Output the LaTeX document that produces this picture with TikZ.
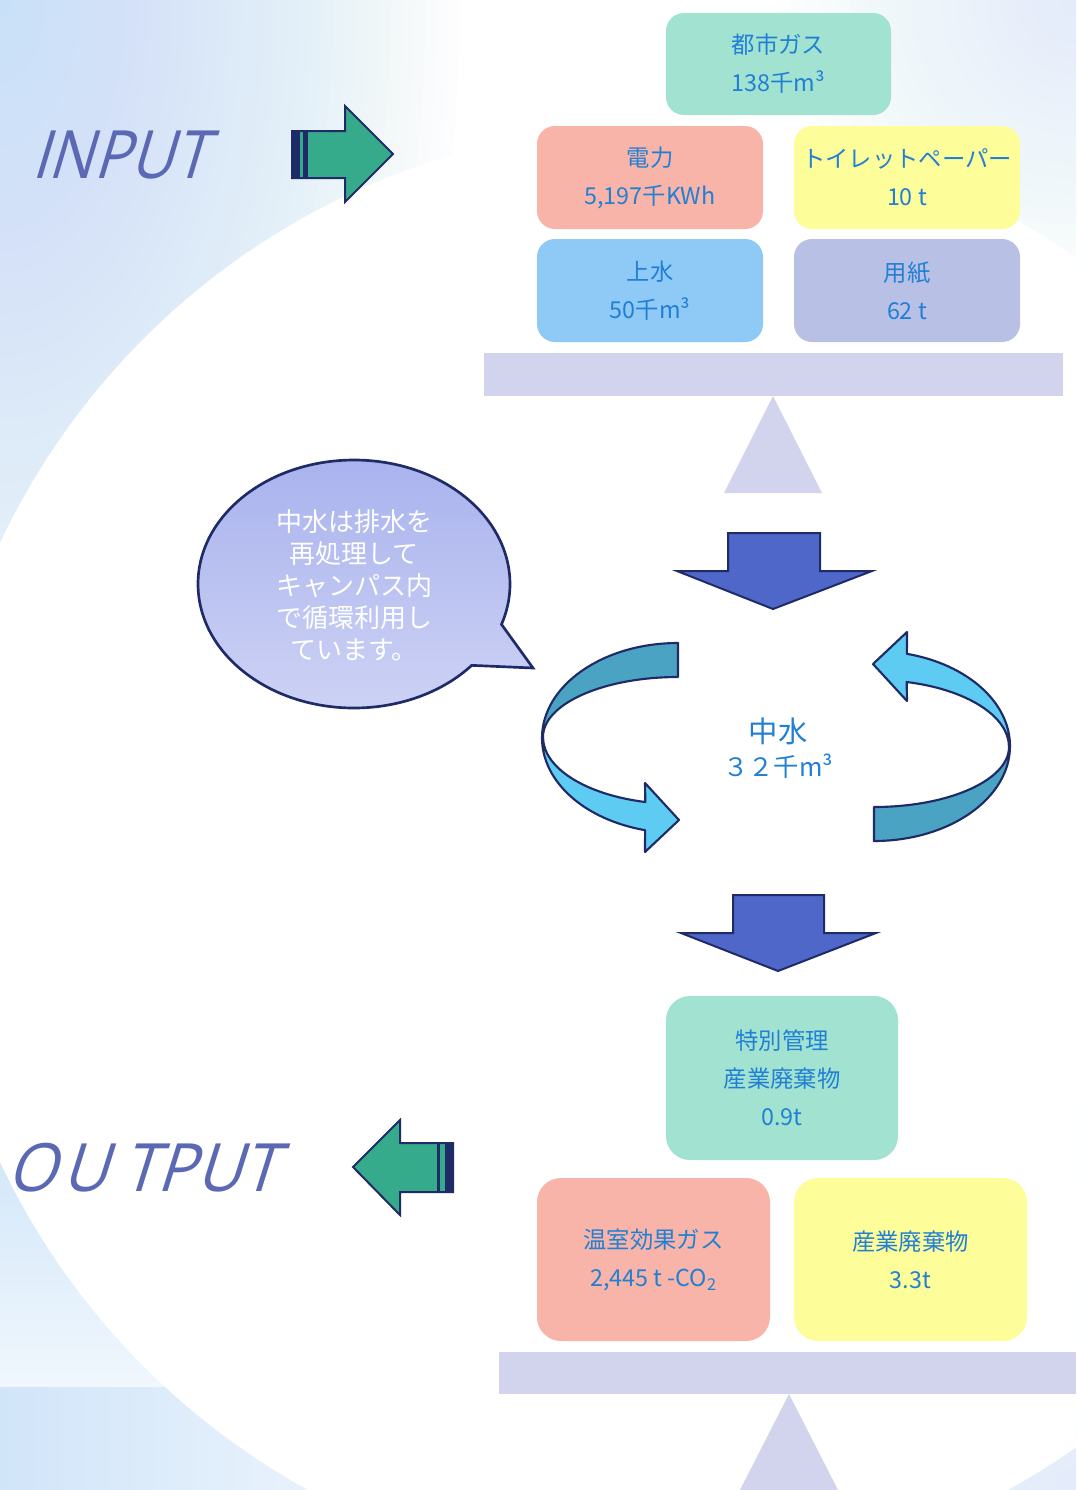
\documentclass[tikz,border=0pt]{standalone}
\usepackage{fontspec}
\setmainfont{Noto Sans CJK JP}
\newfontfamily\titlefont{Open Sans}[FakeSlant=0.33]
\definecolor{navy}{HTML}{1E2B66}
\definecolor{txtblue}{HTML}{2180D4}
\definecolor{mint}{HTML}{A2E2D1}
\definecolor{salmon}{HTML}{F8B4A8}
\definecolor{lemon}{HTML}{FDFD9A}
\definecolor{skyb}{HTML}{8FC9F5}
\definecolor{lav}{HTML}{B8C0E6}
\definecolor{scalec}{HTML}{D2D4EE}
\definecolor{arrowblue}{HTML}{4F67C8}
\definecolor{arrowgreen}{HTML}{36AB8C}
\definecolor{ribdark}{HTML}{4BA3C3}
\definecolor{riblight}{HTML}{5ECBF2}
\definecolor{titlec}{HTML}{5B68B3}
\definecolor{bubtop}{HTML}{94A0EA}
\definecolor{bubbot}{HTML}{E2E5F8}
\definecolor{bgX}{HTML}{C8E1F8}
\definecolor{bgC}{HTML}{C4DFF7}
\definecolor{bgS}{HTML}{BCD9F6}
\definecolor{bgF}{HTML}{D6E9FA}
\pgfdeclareverticalshading{llv}{100bp}{color(0bp)=(white); color(100bp)=(bgC)}
\pgfdeclarehorizontalshading{stripsh}{100bp}{color(0bp)=(bgS); color(80bp)=(white); color(100bp)=(white)}
\pgfdeclareverticalshading{bubshade}{100bp}{color(0bp)=(bubbot); color(100bp)=(bubtop)}
\begin{document}
\begin{tikzpicture}[x=0.75pt,y=-0.75pt,
  box/.style={rounded corners=13.5pt, inner sep=0pt, align=center, text=txtblue,
    font=\fontsize{17.5}{28.5}\selectfont},
  boxwide/.style={box, rounded corners=18pt},
  bigarrow/.style={fill=arrowblue, draw=navy, line width=1.5pt, line join=miter},
  greenarrow/.style={fill=arrowgreen, draw=navy, line width=1.5pt, line join=miter},
  ribbonpart/.style={draw=navy, line width=1.6pt, line join=round},
  glow/.style={fill=#1, fill opacity=0.035},
  titletext/.style={text=titlec, inner sep=0pt, anchor=base west,
    font=\titlefont\fontsize{50}{50}\selectfont}]
\useasboundingbox (0,0) rectangle (1076,1490);
% ---------- background ----------
\begin{scope}
\clip (0,0) rectangle (1076,1490);
\fill[white] (0,0) rectangle (1076,1490);
\foreach \k in {1,...,40}{
  \fill[glow=bgX] (0,0) ellipse[x radius={11.5*\k}, y radius={21*\k}];
}
\foreach \k in {1,...,20}{
  \fill[glow=bgF] (1076,0) circle[radius={15*\k}];
  \fill[glow=bgF] (1076,1490) circle[radius={22*\k}];
}
\shade[shading=llv] (0,1150) rectangle (260,1387);
\shade[shading=stripsh] (0,1387) rectangle (560,1490);
\fill[white] (658,852.5) circle[radius=727];
\end{scope}
% ---------- balance scales ----------
\fill[scalec] (484,353) rectangle (1063,396);
\fill[scalec] (773,396) -- (822,493) -- (724,493) -- cycle;
\fill[scalec] (499,1352) rectangle (1076,1394);
\fill[scalec] (789,1394) -- (838,1490) -- (740,1490) -- cycle;
% ---------- input boxes ----------
\node[box, fill=mint, minimum width=168.75pt, minimum height=76.5pt] (gas) at (778.5,64) {都市ガス\\138千m³};
\node[box, fill=salmon, minimum width=169.5pt, minimum height=77.25pt] (elec) at (650,177.5) {電力\\5,197千KWh};
\node[box, fill=lemon, minimum width=169.5pt, minimum height=77.25pt] (toilet) at (907,177.5) {トイレットペーパー\\10 t};
\node[box, fill=skyb, minimum width=169.5pt, minimum height=77.25pt] (water) at (650,290.5) {上水\\50千m³};
\node[box, fill=lav, minimum width=169.5pt, minimum height=77.25pt] (paper) at (907,290.5) {用紙\\62 t};
% ---------- output boxes ----------
\node[boxwide, fill=mint, minimum width=174pt, minimum height=123pt] (special) at (782,1078) {特別管理\\産業廃棄物\\0.9t};
\node[boxwide, fill=salmon, minimum width=174.75pt, minimum height=122.25pt] (ghg) at (653.5,1259.5) {温室効果ガス\\2,445 t -CO\textsubscript{2}};
\node[boxwide, fill=lemon, minimum width=174.75pt, minimum height=122.25pt] (waste) at (910.5,1259.5) {産業廃棄物\\3.3t};
% ---------- down arrows ----------
\filldraw[bigarrow] (728,533) -- (820,533) -- (820,571) -- (872,571) -- (773,609) -- (677,571) -- (728,571) -- cycle;
\filldraw[bigarrow] (733,895) -- (824,895) -- (824,933) -- (876,933) -- (778,971) -- (681,933) -- (733,933) -- cycle;
% ---------- green arrows ----------
\filldraw[greenarrow] (292,131) -- (345,131) -- (345,106) -- (393,154) -- (345,202) -- (345,178) -- (292,178) -- cycle;
\fill[navy] (292,131) rectangle (300,178);
\fill[navy] (302.7,131) rectangle (308,178);
\filldraw[greenarrow] (453,1143) -- (400,1143) -- (400,1120) -- (353,1167) -- (400,1215) -- (400,1192) -- (453,1192) -- cycle;
\fill[navy] (437,1143) rectangle (440,1192);
\fill[navy] (445,1143) rectangle (453,1192);
% ---------- titles ----------
\node[titletext, xscale=0.9] (input) at (31,178) {INPUT};
\node[titletext, xscale=0.95] (output) at (6,1191) {O\kern5pt U\kern11pt TPUT};
% ---------- speech bubble ----------
\shadedraw[shading=bubshade, draw=navy, line width=2pt, line join=miter]
  ({354+156*cos(41)},{584+124*sin(41)}) arc[start angle=41, end angle=379, x radius=156, y radius=124]
  -- (533,668) -- cycle;
\node[text=white, align=center, inner sep=0pt, font=\fontsize{19.5}{24}\selectfont] (bubtext) at (354,585)
  {中水は排水を\\再処理して\\キャンパス内\\で循環利用し\\ています。};
% ---------- circular ribbons ----------
\foreach \rot in {0,180}{
\begin{scope}[rotate around={\rot:(776,742)}]
\filldraw[ribbonpart, fill=ribdark] (678,643) arc[start angle=-90, end angle=-180, x radius=136, y radius=95]
  -- (543,737) arc[start angle=180, end angle=270, x radius=135, y radius=60] -- cycle;
\filldraw[ribbonpart, fill=riblight] (542,738) arc[start angle=180, end angle=104, x radius=136, y radius=95]
  -- (645,852) -- (679,820) -- (645,783)
  -- ({678+135*cos(104)},{737+67*sin(104)}) arc[start angle=104, end angle=180, x radius=135, y radius=67] -- cycle;
\end{scope}
}
\node[text=txtblue, inner sep=0pt, font=\fontsize{22}{26}\selectfont] (nakamizu) at (778,731) {中水};
\node[text=txtblue, inner sep=0pt, font=\fontsize{19}{22}\selectfont] (amount) at (778,766) {３２千m³};
\end{tikzpicture}
\end{document}
